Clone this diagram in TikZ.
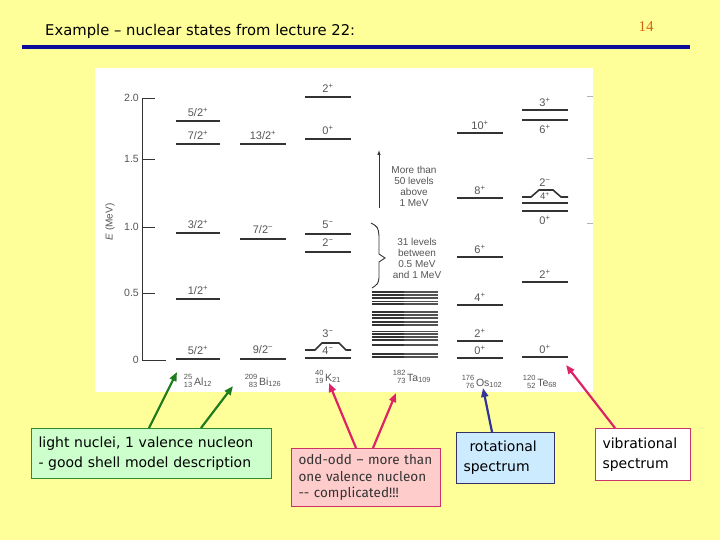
\documentclass[tikz,border=0pt]{standalone}
\usepackage{fontspec}
\setmainfont{Liberation Sans}
\newfontfamily\comicfont{DejaVu Sans}
\newfontfamily\thinfont{Fira Sans}
\newfontfamily\pgfont{Liberation Serif}
\usetikzlibrary{arrows.meta}
\definecolor{bgyellow}{HTML}{FFFF99}
\definecolor{ruleblue}{HTML}{0A0A9A}
\definecolor{pgcol}{HTML}{CC6611}
\definecolor{inkgray}{HTML}{333333}
\definecolor{txtgray}{HTML}{555555}
\definecolor{agreen}{HTML}{1E7B1E}
\definecolor{apink}{HTML}{DD2266}
\definecolor{ablue}{HTML}{333399}
\definecolor{gfill}{HTML}{CCFFCC}
\definecolor{gdraw}{HTML}{2E8B2E}
\definecolor{pfill}{HTML}{FFCCCC}
\definecolor{pdraw}{HTML}{CC3366}
\definecolor{bfill}{HTML}{CCEBFF}
\definecolor{bdraw}{HTML}{333366}
\newcommand\nucl[4]{\raisebox{-2.5pt}{\fontsize{7.5}{7}\selectfont\shortstack[r]{#1\\#2}}\,#3\textsubscript{#4}}
\newcommand\jpi[2]{#1\textsuperscript{#2}}
\tikzset{
  lvl/.style={draw=inkgray, line width=1.6pt},
  lab/.style={text=txtgray, font=\fontsize{11}{11}\selectfont, inner sep=0pt},
  nuc/.style={text=txtgray, font=\fontsize{10.5}{10}\selectfont, inner sep=0pt},
  ticklab/.style={text=txtgray, font=\fontsize{10.5}{10}\selectfont, inner sep=0pt, anchor=east},
  axisline/.style={draw=inkgray, line width=0.9pt},
  note/.style={text=txtgray, font=\fontsize{10}{11}\selectfont, align=center, inner sep=0pt},
  boxtxt/.style={font=\comicfont\fontsize{14}{20}\selectfont, align=left, inner xsep=7pt, inner ysep=0pt, anchor=north west, line width=1pt},
  conn/.style={line width=2.2pt, -{Triangle[length=9pt,width=7pt]}},
}
\begin{document}
\begin{tikzpicture}[x=1pt,y=-1pt]
\useasboundingbox (0,0) rectangle (720,540);
\fill[bgyellow] (0,0) rectangle (720,540);
% title
\node[anchor=west, font=\comicfont\fontsize{14.8}{16}\selectfont, inner sep=0pt] (title) at (45,31) {Example – nuclear states from lecture 22:};
\node[font=\pgfont\fontsize{15}{16}\selectfont, text=pgcol, inner sep=0pt] (pgno) at (646,27) {14};
\draw[ruleblue, line width=3.5pt] (22,47) -- (690,47);
% scanned figure
\fill[white] (95,68) rectangle (593,392);
\draw[axisline] (142,98) -- (142,360);
\foreach \yy/\tl in {98/2.0,159/1.5,227/1.0,293/0.5}{
  \draw[axisline] (142,\yy) -- (155,\yy);
  \node[ticklab] at (139,\yy) {\tl};
}
\draw[axisline] (142,360) -- (166,360);
\node[ticklab] (t0) at (139,360) {0};
\foreach \yy in {96,158,223}{\draw[gray!60, line width=0.8pt] (587,\yy) -- (593,\yy);}
\node[text=txtgray, font=\fontsize{10}{10}\selectfont, rotate=90, inner sep=0pt] (elab) at (110,222) {\textit{E} (MeV)};
% Al column
\foreach \yy/\tl in {121/\jpi{5/2}{+},144/\jpi{7/2}{+},233/\jpi{3/2}{+},299/\jpi{1/2}{+},359/\jpi{5/2}{+}}{
  \draw[lvl] (176,\yy) -- (220,\yy);
  \node[lab] at (198,\yy-9) {\tl};
}
% Bi column
\foreach \yy/\tl in {144/\jpi{13/2}{+},239/\jpi{7/2}{−},359/\jpi{9/2}{−}}{
  \draw[lvl] (240,\yy) -- (286,\yy);
  \node[lab] at (263,\yy-9) {\tl};
}
% K column
\foreach \yy/\tl in {97/\jpi{2}{+},139/\jpi{0}{+},234/\jpi{5}{−},252/\jpi{2}{−}}{
  \draw[lvl] (305,\yy) -- (351,\yy);
  \node[lab] at (328,\yy-9) {\tl};
}
\draw[lvl] (305,350) -- (315,350) -- (322,343) -- (339,343) -- (346,350) -- (351,350);
\draw[lvl] (305,358) -- (351,358);
\node[lab] (k3) at (328,334) {\jpi{3}{−}};
\node[lab] (k4) at (328,351) {\jpi{4}{−}};
% notes
\draw[inkgray, line width=0.8pt, -{Latex[length=5pt,width=3.5pt]}] (379,208) -- (379,150);
\node[note] (more) at (414,186) {More than\\50 levels\\above\\1 MeV};
\draw[inkgray, line width=0.9pt] (371,223) .. controls (378,227) .. (379,236) -- (379,254) -- (385,258) -- (379,262) -- (379,278) .. controls (378,284) .. (372,288);
\node[note] (thirty) at (417,258) {31 levels\\between\\0.5 MeV\\and 1 MeV};
% Ta ladder
\foreach \yy in {292,295,298,301.5,304,312,315,318,322,325,331.5,334,337,340,345,354,357}{
  \draw[inkgray, line width=1.2pt] (372,\yy) -- (404,\yy);
  \draw[inkgray!85, line width=1.2pt] (404,\yy) -- (438,\yy);
}
% Os column
\foreach \yy/\tl in {133/\jpi{10}{+},198/\jpi{8}{+},257/\jpi{6}{+},305/\jpi{4}{+},341/\jpi{2}{+},358/\jpi{0}{+}}{
  \draw[lvl] (457,\yy) -- (503,\yy);
  \node[lab] at (480,\yy-8) {\tl};
}
% Te column
\foreach \yy in {110,120,203,211,282,357}{\draw[lvl] (522,\yy) -- (568,\yy);}
\draw[lvl] (522,197) -- (531,197) -- (539,190) -- (553,190) -- (561,197) -- (568,197);
\node[lab] (te3) at (545,102) {\jpi{3}{+}};
\node[lab] (te6) at (545,129) {\jpi{6}{+}};
\node[lab] (te2m) at (545,183) {\jpi{2}{−}};
\node[lab, font=\fontsize{9.5}{9}\selectfont] (te4) at (545,196) {\jpi{4}{+}};
\node[lab] (te0a) at (545,220) {\jpi{0}{+}};
\node[lab] (te2) at (545,274) {\jpi{2}{+}};
\node[lab] (te0) at (545,349) {\jpi{0}{+}};
% nuclide labels
\node[nuc] (al) at (198,381) {\nucl{25}{13}{Al}{12}};
\node[nuc] (bi) at (263,381) {\nucl{209}{83}{Bi}{126}};
\node[nuc] (k) at (328,377) {\nucl{40}{19}{K}{21}};
\node[nuc] (ta) at (412,377) {\nucl{182}{73}{Ta}{109}};
\node[nuc] (os) at (482,382) {\nucl{176}{76}{Os}{102}};
\node[nuc] (te) at (540,382) {\nucl{120}{52}{Te}{68}};
% boxes
\node[boxtxt, fill=gfill, draw=gdraw, text width=226pt, minimum height=50pt] (gbox) at (31,428) {light nuclei, 1 valence nucleon\\- good shell model description};
\node[boxtxt, fill=pfill, draw=pdraw, text=black!80, font=\thinfont\fontsize{13.5}{16.5}\selectfont, text width=135pt, minimum height=58pt] (pbox) at (291,448) {odd-odd – more than\\one valence nucleon\\-- complicated!!!};
\node[boxtxt, fill=bfill, draw=bdraw, text width=84pt, minimum height=51pt] (bbox) at (456,432) {\hspace{6pt}rotational\\spectrum};
\node[boxtxt, fill=white, draw=pdraw, text width=81pt, minimum height=52pt] (wbox) at (595,428) {vibrational\\spectrum};
% connectors
\coordinate (hal) at (177,372);
\coordinate (hbi) at (233,386);
\coordinate (hk) at (329,383);
\coordinate (hta) at (396,393);
\coordinate (hos) at (483,388);
\coordinate (hte) at (566,365);
\draw[conn, agreen] ([xshift=118pt]gbox.north west) -- (hal);
\draw[conn, agreen] ([xshift=170pt]gbox.north west) -- (hbi);
\draw[conn, apink] ([xshift=65pt]pbox.north west) -- (hk);
\draw[conn, apink] ([xshift=82pt]pbox.north west) -- (hta);
\draw[conn, ablue] ([xshift=36pt]bbox.north west) -- (hos);
\draw[conn, apink] ([xshift=20pt]wbox.north west) -- (hte);
\end{tikzpicture}
\end{document}
